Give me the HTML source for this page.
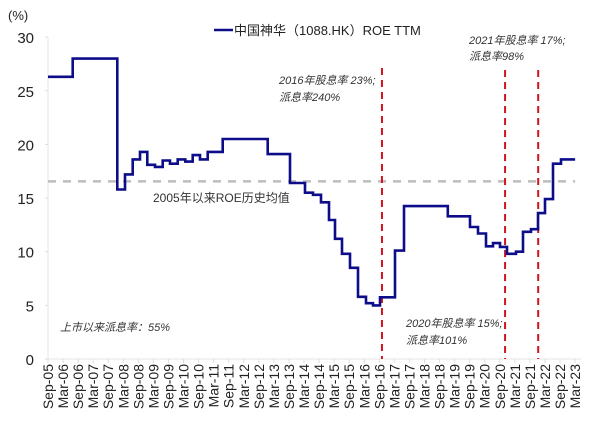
<!DOCTYPE html>
<html><head><meta charset="utf-8"><style>
html,body{margin:0;padding:0;background:#fff;}
svg{display:block;font-family:"Liberation Sans","Noto Sans CJK SC",sans-serif;}
</style></head><body>
<svg id="chart" width="600" height="426" viewBox="0 0 600 426"></svg>
<script>
// quarter index from Sep-05 (step start), ROE TTM value
const stepQuarters = [0,3.28,9.2,10.23,11.25,12.22,13.19,14.21,15.23,16.2,17.22,18.23,19.22,20.19,21.21,23.2,29.18,32.14,34.13,35.19,36.25,37.32,38.11,39.04,40.1,41.17,42.23,43.16,44.09,46.08,47.28,53.1,56.04,57.1,58.17,59.1,60.03,60.96,62.15,63.08,64.14,65.07,66,67.06,68.13];
const stepValues = [26.3,28.0,15.8,17.2,18.6,19.3,18.1,17.9,18.5,18.2,18.6,18.4,19.0,18.6,19.3,20.5,19.1,16.4,15.5,15.3,14.6,12.95,11.2,9.8,8.5,5.8,5.2,5.0,5.75,10.1,14.25,13.3,12.3,11.7,10.5,10.8,10.45,9.8,10.0,11.85,12.1,13.6,14.9,18.2,18.6];
const endQuarter = 70;
const xLabels = ["Sep-05","Mar-06","Sep-06","Mar-07","Sep-07","Mar-08","Sep-08","Mar-09","Sep-09","Mar-10","Sep-10","Mar-11","Sep-11","Mar-12","Sep-12","Mar-13","Sep-13","Mar-14","Sep-14","Mar-15","Sep-15","Mar-16","Sep-16","Mar-17","Sep-17","Mar-18","Sep-18","Mar-19","Sep-19","Mar-20","Sep-20","Mar-21","Sep-21","Mar-22","Sep-22","Mar-23"];
const yTicks = [0,5,10,15,20,25,30];
const avgROE = 16.55;
const eventQuarters = [44.35, 60.7, 65.1];
const eventTops = [68, 70, 70];

const svg = document.getElementById('chart');
const NS = 'http://www.w3.org/2000/svg';
const X0 = 48, QW = 7.53, Y0 = 359, YU = 10.73;
const xq = q => X0 + q*QW;
const yv = v => Y0 - v*YU;
function mk(tag, attrs, name, txt){
  const e = document.createElementNS(NS, tag);
  for (const k in attrs) e.setAttribute(k, attrs[k]);
  
  
  if (txt !== undefined) e.textContent = txt;
  svg.appendChild(e);
  return e;
}
mk('line',{x1:X0,y1:yv(30),x2:X0,y2:Y0,stroke:'#e4e4e4','stroke-width':1},'y-axis');
mk('line',{x1:X0,y1:Y0,x2:xq(70)+6,y2:Y0,stroke:'#e4e4e4','stroke-width':1},'x-axis');
yTicks.forEach(v=>{
  mk('line',{x1:X0-3,y1:yv(v),x2:X0,y2:yv(v),stroke:'#ddd'},'y-tick');
  mk('text',{x:34,y:yv(v)+6,'text-anchor':'end','font-size':15,fill:'#222'},'y-tick-label',String(v));
});
mk('text',{x:8,y:20,'font-size':13,fill:'#222'},'y-axis-unit','(%)');
xLabels.forEach((l,i)=>{
  const x = xq(i*2);
  mk('line',{x1:x,y1:Y0,x2:x,y2:Y0+4,stroke:'#ddd'},'x-tick');
  mk('text',{x:0,y:0,transform:`translate(${x+5},${Y0+5}) rotate(-90)`,'text-anchor':'end','font-size':14,fill:'#222'},'x-tick-label',l);
});
mk('line',{x1:X0,y1:yv(avgROE),x2:xq(70),y2:yv(avgROE),stroke:'#bdbdbd','stroke-width':2.5,'stroke-dasharray':'8,7'},'historical-average-line');
eventQuarters.forEach((q,i)=>{
  mk('line',{x1:xq(q),y1:eventTops[i],x2:xq(q),y2:Y0,stroke:'#d0141c','stroke-width':2,'stroke-dasharray':'7,5'},'dividend-event-line');
});
let d = '';
stepQuarters.forEach((q,i)=>{
  const nq = i < stepQuarters.length-1 ? stepQuarters[i+1] : endQuarter;
  d += (i===0?'M':'L') + xq(q).toFixed(1)+','+yv(stepValues[i]).toFixed(1) + 'L' + xq(nq).toFixed(1)+','+yv(stepValues[i]).toFixed(1);
});
mk('path',{d:d,fill:'none',stroke:'#0d0d8a','stroke-width':2.6,'stroke-linejoin':'miter'},'roe-ttm-line');
mk('line',{x1:214,y1:30,x2:233,y2:30,stroke:'#0d0d8a','stroke-width':2.6},'legend-swatch');
mk('text',{x:234,y:35,'font-size':13,fill:'#222'},'legend-label','中国神华（1088.HK）ROE TTM');
const ann = [
 [279,84,'2016年股息率 23%;','annotation-2016-yield'],
 [279,101,'派息率240%','annotation-2016-payout'],
 [469,44,'2021年股息率 17%;','annotation-2021-yield'],
 [469,60,'派息率98%','annotation-2021-payout'],
 [406,327,'2020年股息率 15%;','annotation-2020-yield'],
 [406,344,'派息率101%','annotation-2020-payout'],
 [60,331,'上市以来派息率：55%','annotation-payout-since-listing']
];
ann.forEach(a=>mk('text',{x:a[0],y:a[1],'font-size':11,'font-style':'italic',fill:'#333'},a[3],a[2]));
mk('text',{x:153,y:202,'font-size':12,fill:'#333'},'average-line-label','2005年以来ROE历史均值');
</script>
</body></html>
